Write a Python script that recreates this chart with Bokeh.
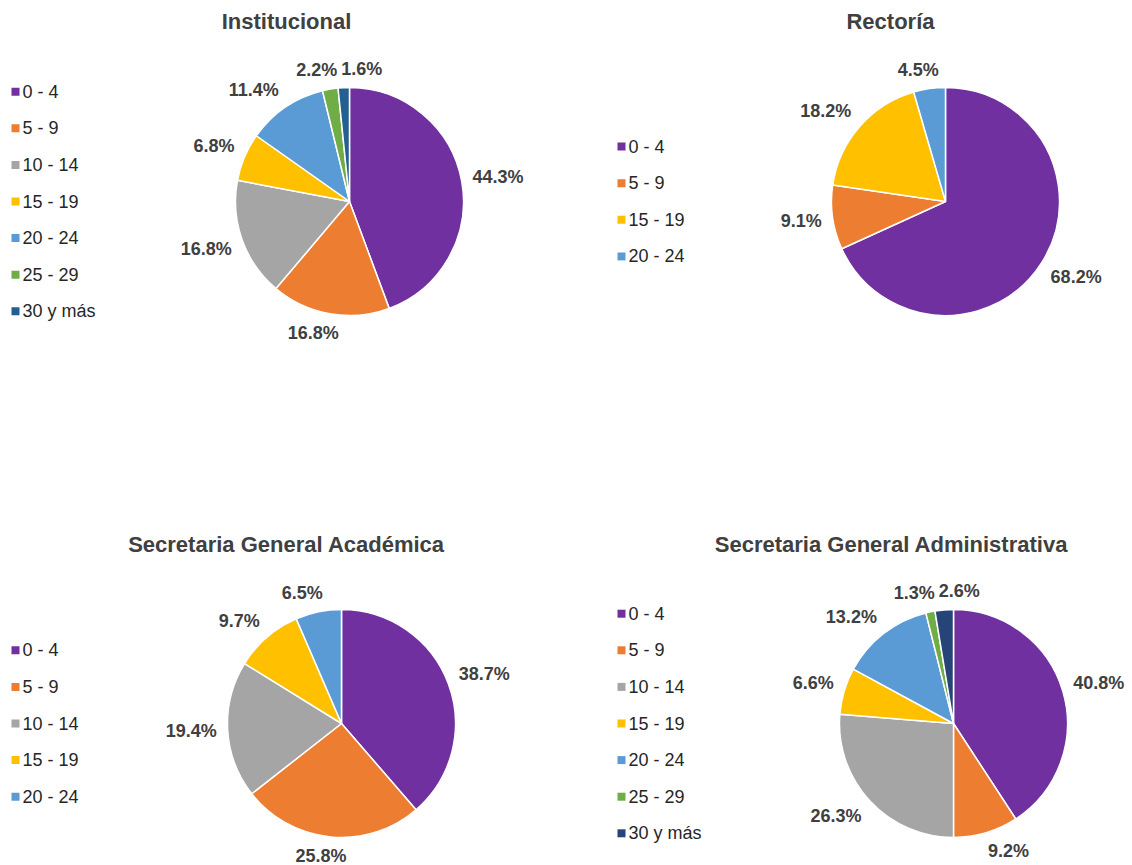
import math
from bokeh.plotting import figure
from bokeh.models import Range1d, ColumnDataSource
from bokeh.embed import file_html
from bokeh.resources import INLINE
from bokeh.core.properties import value

# ---------------- data ----------------
inst_cats = ["0 - 4", "5 - 9", "10 - 14", "15 - 19", "20 - 24", "25 - 29", "30 y más"]
inst_vals = [44.3, 16.8, 16.8, 6.8, 11.4, 2.2, 1.6]

rect_cats = ["0 - 4", "5 - 9", "15 - 19", "20 - 24"]
rect_vals = [68.2, 9.1, 18.2, 4.5]

sga_cats = ["0 - 4", "5 - 9", "10 - 14", "15 - 19", "20 - 24"]
sga_vals = [38.7, 25.8, 19.4, 9.7, 6.5]

sgad_cats = ["0 - 4", "5 - 9", "10 - 14", "15 - 19", "20 - 24", "25 - 29", "30 y más"]
sgad_vals = [40.8, 9.2, 26.3, 6.6, 13.2, 1.3, 2.6]

titles = ["Institucional", "Rectoría", "Secretaria General Académica",
          "Secretaria General Administrativa"]

palette_a = {"0 - 4": "#7030A0", "5 - 9": "#ED7D31", "10 - 14": "#A5A5A5",
             "15 - 19": "#FFC000", "20 - 24": "#5B9BD5", "25 - 29": "#70AD47",
             "30 y más": "#255E91"}
palette_b = dict(palette_a)
palette_b["30 y más"] = "#264478"

# ---------------- layout (screen pixels) ----------------
W, H = 1132, 865
FONT = "Liberation Sans"
panels = [
    dict(cats=inst_cats, vals=inst_vals, title=titles[0], pal=palette_a,
         cx=349, cy=201, tx=286, ty=21, lx=15),
    dict(cats=rect_cats, vals=rect_vals, title=titles[1], pal=palette_a,
         cx=945, cy=201, tx=890, ty=21, lx=621),
    dict(cats=sga_cats, vals=sga_vals, title=titles[2], pal=palette_a,
         cx=341, cy=723, tx=286, ty=544, lx=15),
    dict(cats=sgad_cats, vals=sgad_vals, title=titles[3], pal=palette_b,
         cx=953, cy=723, tx=891, ty=544, lx=621),
]
R = 114
LEG_STEP = 36.6
LABEL_FS = 18

CW = {"0": .556, "1": .556, "2": .556, "3": .556, "4": .556, "5": .556, "6": .556,
      "7": .556, "8": .556, "9": .556, ".": .278, "%": .889}


def tw(s, fs):
    return sum(CW.get(c, .556) for c in s) * fs


p = figure(width=W, height=H, x_range=Range1d(0, W), y_range=Range1d(0, H),
           output_backend="svg", toolbar_location=None, min_border=0,
           x_axis_type=None, y_axis_type=None)
p.grid.visible = False
p.outline_line_color = None
p.background_fill_color = "white"
p.border_fill_color = "white"

for pn in panels:
    cats, vals = pn["cats"], pn["vals"]
    total = sum(vals)
    cx, cy = pn["cx"], H - pn["cy"]
    starts, ends, mids = [], [], []
    cum = 0.0
    for v in vals:
        s = cum / total
        cum += v
        e = cum / total
        starts.append(math.pi / 2 - 2 * math.pi * s)
        ends.append(math.pi / 2 - 2 * math.pi * e)
        mids.append((s + e) / 2)
    src = ColumnDataSource(dict(x=[cx] * len(vals), y=[cy] * len(vals),
                                start=starts, end=ends,
                                color=[pn["pal"][c] for c in cats]))
    p.wedge(x="x", y="y", radius=R, start_angle="start", end_angle="end",
            direction="clock", fill_color="color", line_color="white",
            line_width=1.5, source=src)

    # data labels (outside end)
    lxs, lys, ltxt, boxes = [], [], [], []
    for v, m in zip(vals, mids):
        ang = 2 * math.pi * m
        dx, dy = math.sin(ang), math.cos(ang)
        txt = f"{v:.1f}%"
        w = tw(txt, LABEL_FS)
        h = LABEL_FS * 0.9
        sx = max(-1.0, min(1.0, dx / 0.3))
        sy = max(-1.0, min(1.0, dy / 0.5))
        x = cx + (R + 11) * dx + sx * w / 2
        y = cy + (R + 11) * dy + sy * h / 2
        for (bx, by, bw, bh) in boxes:
            if abs(x - bx) < (w + bw) / 2 + 4 and abs(y - by) < (h + bh) / 2:
                x = bx + (bw + w) / 2 + 4
        boxes.append((x, y, w, h))
        lxs.append(x)
        lys.append(y)
        ltxt.append(txt)
    p.text(x=lxs, y=lys, text=ltxt, text_font=value(FONT),
           text_font_size=value(f"{LABEL_FS}px"), text_font_style="bold",
           text_color="#404040", text_align="center", text_baseline="middle")

    # title
    p.text(x=[pn["tx"]], y=[H - pn["ty"]], text=[pn["title"]],
           text_font=value(FONT), text_font_size=value("22px"),
           text_font_style="bold", text_color="#404040",
           text_align="center", text_baseline="middle")

    # legend, vertically centred on the pie
    n = len(cats)
    ys = [cy + (n - 1) / 2 * LEG_STEP - i * LEG_STEP for i in range(n)]
    p.rect(x=[pn["lx"]] * n, y=ys, width=8, height=8,
           fill_color=[pn["pal"][c] for c in cats], line_color=None)
    p.text(x=[pn["lx"] + 7] * n, y=ys, text=cats, text_font=value(FONT),
           text_font_size=value("18px"), text_color="#262626",
           text_align="left", text_baseline="middle")

open("out.html", "w").write(file_html(p, INLINE))
